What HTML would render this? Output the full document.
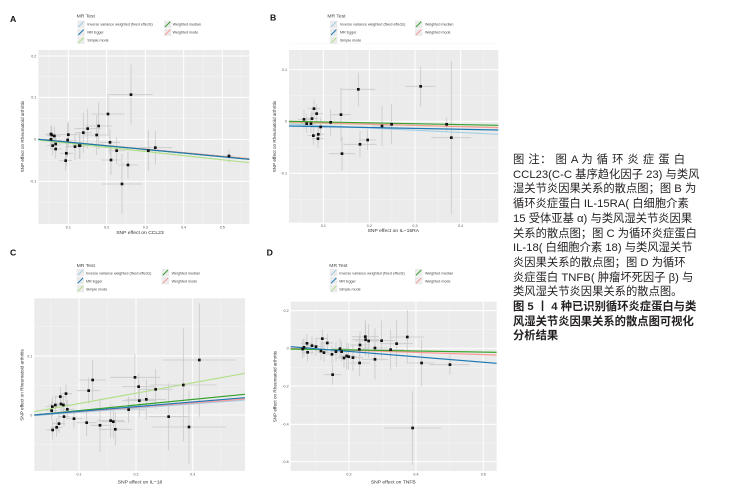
<!DOCTYPE html>
<html><head><meta charset="utf-8"><style>
body{margin:0;background:#fff;width:739px;height:492px;overflow:hidden;position:relative;font-family:"Liberation Sans","Noto Sans CJK SC",sans-serif}
svg{position:absolute;left:0;top:0}
.cap{position:absolute;left:513px;top:153px;width:172px;font-size:11.3px;line-height:14.7px;color:#231f20;font-family:"Liberation Sans","Noto Sans CJK SC",sans-serif}
.cap div{text-align:justify;text-align-last:justify;white-space:nowrap}
.cap div.l{text-align-last:left}
.cap b{font-weight:bold}
text{font-family:"Liberation Sans",sans-serif}
</style></head><body>
<svg width="739" height="492" viewBox="0 0 739 492">
<g id="A" transform="scale(0.3333)">
 <text x="30" y="66" font-size="26" font-weight="bold" fill="#111">A</text>
 <text x="230" y="52" font-size="15" fill="#444">MR Test</text>
 <text x="262" y="76" font-size="11" fill="#444">Inverse variance weighted (fixed effects)</text>
 <text x="262" y="100" font-size="11" fill="#444">MR Egger</text>
 <text x="262" y="124" font-size="11" fill="#444">Simple mode</text>
 <text x="518" y="76" font-size="11" fill="#444">Weighted median</text>
 <text x="518" y="100" font-size="11" fill="#444">Weighted mode</text>
 <text x="420" y="702" font-size="15" fill="#333" text-anchor="middle">SNP effect on CCL23</text>
 <text transform="translate(72,410) rotate(-90)" font-size="14" fill="#333" text-anchor="middle">SNP effect on Rheumatoid arthritis</text>
</g>
<g id="B" transform="translate(250,0) scale(0.3333)">
 <text x="60" y="62" font-size="26" font-weight="bold" fill="#111">B</text>
 <text x="232" y="52" font-size="15" fill="#444">MR Test</text>
 <text x="270" y="76" font-size="11" fill="#444">Inverse variance weighted (fixed effects)</text>
 <text x="270" y="100" font-size="11" fill="#444">MR Egger</text>
 <text x="270" y="124" font-size="11" fill="#444">Simple mode</text>
 <text x="525" y="76" font-size="11" fill="#444">Weighted median</text>
 <text x="525" y="100" font-size="11" fill="#444">Weighted mode</text>
 <text x="430" y="696" font-size="15" fill="#333" text-anchor="middle">SNP effect on IL−15RA</text>
 <text transform="translate(78,410) rotate(-90)" font-size="14" fill="#333" text-anchor="middle">SNP effect on Rheumatoid arthritis</text>
</g>
<g id="C" transform="translate(0,245) scale(0.3333)">
 <text x="30" y="32" font-size="26" font-weight="bold" fill="#111">C</text>
 <text x="230" y="66" font-size="15" fill="#444">MR Test</text>
 <text x="258" y="88" font-size="11" fill="#444">Inverse variance weighted (fixed effects)</text>
 <text x="258" y="112" font-size="11" fill="#444">MR Egger</text>
 <text x="258" y="136" font-size="11" fill="#444">Simple mode</text>
 <text x="515" y="88" font-size="11" fill="#444">Weighted median</text>
 <text x="515" y="112" font-size="11" fill="#444">Weighted mode</text>
 <text x="420" y="716" font-size="15" fill="#333" text-anchor="middle">SNP effect on IL−18</text>
 <text transform="translate(70,420) rotate(-90)" font-size="14" fill="#333" text-anchor="middle">SNP effect on Rheumatoid arthritis</text>
</g>
<g id="D" transform="translate(0,245) scale(0.3333)">
 <text x="800" y="32" font-size="26" font-weight="bold" fill="#111">D</text>
 <text x="988" y="66" font-size="15" fill="#444">MR Test</text>
 <text x="1018" y="88" font-size="11" fill="#444">Inverse variance weighted (fixed effects)</text>
 <text x="1018" y="112" font-size="11" fill="#444">MR Egger</text>
 <text x="1018" y="136" font-size="11" fill="#444">Simple mode</text>
 <text x="1275" y="88" font-size="11" fill="#444">Weighted median</text>
 <text x="1275" y="112" font-size="11" fill="#444">Weighted mode</text>
 <text x="1180" y="716" font-size="15" fill="#333" text-anchor="middle">SNP effect on TNFB</text>
 <text transform="translate(830,425) rotate(-90)" font-size="14" fill="#333" text-anchor="middle">SNP effect on Rheumatoid arthritis</text>
</g>
</svg>
<div class="cap">
<div>图 注： 图 A 为 循 环 炎 症 蛋 白</div>
<div>CCL23(C-C 基序趋化因子 23) 与类风</div>
<div>湿关节炎因果关系的散点图；图 B 为</div>
<div>循环炎症蛋白 IL-15RA( 白细胞介素</div>
<div>15 受体亚基 α) 与类风湿关节炎因果</div>
<div>关系的散点图；图 C 为循环炎症蛋白</div>
<div>IL-18( 白细胞介素 18) 与类风湿关节</div>
<div>炎因果关系的散点图；图 D 为循环</div>
<div>炎症蛋白 TNFB( 肿瘤坏死因子 β) 与</div>
<div class="l">类风湿关节炎因果关系的散点图。</div>
<div><b>图 5 丨 4 种已识别循环炎症蛋白与类</b></div>
<div><b>风湿关节炎因果关系的散点图可视化</b></div>
<div class="l"><b>分析结果</b></div>
</div>
<script>
var NS="http://www.w3.org/2000/svg";
function el(p,t,a,first){var e=document.createElementNS(NS,t);for(var k in a)e.setAttribute(k,a[k]);if(first)p.insertBefore(e,p.firstChild);else p.appendChild(e);return e;}
var C={ivw:"#a6cee3",eg:"#1f78b4",sm:"#b2df8a",wmed:"#33a02c",wmo:"#fb9a99"};
function panel(id,P){
 var g=document.getElementById(id);
 var b=el(g,"g",{},true);
 el(b,"rect",{x:P.x0,y:P.y0,width:P.x1-P.x0,height:P.y1-P.y0,fill:"#ebebeb"});
 P.ymin.forEach(function(y){el(b,"line",{x1:P.x0,x2:P.x1,y1:y,y2:y,stroke:"#f5f5f5","stroke-width":1.5});});
 P.xmin.forEach(function(x){el(b,"line",{x1:x,x2:x,y1:P.y0,y2:P.y1,stroke:"#f5f5f5","stroke-width":1.5});});
 P.yt.forEach(function(t){el(b,"line",{x1:P.x0,x2:P.x1,y1:t[0],y2:t[0],stroke:"#fff","stroke-width":3});var e=el(b,"text",{x:P.x0-6,y:t[0]+4,"font-size":11,fill:"#555","text-anchor":"end"});e.textContent=t[1];});
 P.xt.forEach(function(t){el(b,"line",{x1:t[0],x2:t[0],y1:P.y0,y2:P.y1,stroke:"#fff","stroke-width":3});var e=el(b,"text",{x:t[0],y:P.y1+13,"font-size":11,fill:"#555","text-anchor":"middle"});e.textContent=t[1];});
 P.keys.forEach(function(k){el(b,"rect",{x:k[0],y:k[1]-10,width:22,height:22,fill:"#ebebeb"});el(b,"line",{x1:k[0]+3,y1:k[1]+9,x2:k[0]+19,y2:k[1]-7,stroke:k[2],"stroke-width":3});});
 P.pts.forEach(function(p){var hx=p[2]||18,vy=p[3]||28;
  el(b,"line",{x1:p[0]-hx,x2:p[0]+hx,y1:p[1],y2:p[1],stroke:"#cacaca","stroke-width":2.5});
  el(b,"line",{x1:p[0],x2:p[0],y1:p[1]-vy,y2:p[1]+vy,stroke:"#cacaca","stroke-width":2.5});});
 P.lines.forEach(function(l){el(b,"line",{x1:P.x0,x2:P.x1,y1:l[0],y2:l[1],stroke:C[l[2]],"stroke-width":3.5});});
 P.pts.forEach(function(p){el(b,"rect",{x:p[0]-4,y:p[1]-4,width:8,height:8,fill:"#111"});});
}
function lk(x1,x2,y){return [[x1,y,C.ivw],[x1,y+24,C.eg],[x1,y+48,C.sm],[x2,y,C.wmed],[x2,y+24,C.wmo]];}
panel("A",{x0:115,x1:748,y0:150,y1:672,ymin:[230,355,481,607],xmin:[147,262,378,493,609,725],
 yt:[[168,"0.2"],[292,"0.1"],[418,"0"],[544,"-0.1"]],xt:[[205,"0.1"],[320,"0.2"],[436,"0.3"],[551,"0.4"],[667,"0.5"]],
 keys:lk(232,492,72),
 pts:[[153,402,15,25],[155,405],[158,437],[163,408],[167,432],[167,447],[153,418],[199,460,20,40],[197,482,20,30],[205,404,30,40],[203,420,30,50],[225,440,30,40],[238,437,20,40],[240,437,20,40],[250,398,25,60],[263,386,40,60],[290,405,40,60],[296,378,40,70],[324,342,50,60],[330,427,30,40],[333,480,30,45],[350,452,25,40],[366,552,60,90],[384,495,30,40],[393,284,65,90],[445,452,30,60],[466,443,50,50],[687,468,10,20]],
 lines:[[418,476,"ivw"],[418,476,"wmo"],[420,488,"sm"],[418,478,"wmed"],[418,478,"eg"]]});
panel("B",{x0:117,x1:745,y0:150,y1:668,ymin:[131,287,442,598],xmin:[151,289,426,564,701],
 yt:[[209,"0.1"],[364,"0"],[520,"-0.1"]],xt:[[220,"0.1"],[358,"0.2"],[495,"0.3"],[632,"0.4"]],
 keys:lk(240,495,72),
 pts:[[162,358],[170,371],[183,371],[186,356],[192,326],[200,341],[190,407],[205,403],[204,416],[212,381],[242,367,25,40],[273,344,30,80],[276,461,40,50],[325,268,50,50],[330,433,50,40],[353,420,25,30],[396,378,30,60],[425,373,30,60],[512,259,45,60],[590,373,15,20],[604,413,60,230]],
 lines:[[372,403,"ivw"],[378,390,"eg"],[368,382,"sm"],[366,383,"wmo"],[364,376,"wmed"]]});
panel("C",{x0:103,x1:735,y0:160,y1:678,ymin:[245,422,598],xmin:[152,322,492,662],
 yt:[[333,"0.1"],[510,"0"]],xt:[[237,"0.1"],[408,"0.2"],[578,"0.3"]],
 keys:lk(230,485,82),
 pts:[[155,497],[157,485],[158,555],[166,480],[170,547],[177,536],[181,455],[183,477],[190,480],[192,515],[198,446],[202,493],[222,521,25,30],[260,533,30,40],[266,437,35,40],[278,405,40,60],[300,541,30,80],[332,527,40,50],[340,530,35,50],[346,553,50,50],[386,494,50,40],[405,397,75,70],[416,425,50,40],[418,467,50,50],[439,463,60,60],[467,433,50,60],[506,515,60,100],[550,420,100,170],[567,546,110,110],[598,345,110,170]],
 lines:[[500,385,"sm"],[510,448,"wmed"],[512,465,"ivw"],[510,462,"wmo"],[510,458,"eg"]]});
panel("D",{x0:872,x1:1490,y0:170,y1:678,ymin:[254,367,481,594],xmin:[946,1148,1349],
 yt:[[197,"0.2"],[310,"0"],[423,"-0.2"],[538,"-0.4"],[650,"-0.6"]],xt:[[1047,"0.2"],[1248,"0.4"],[1450,"0.6"]],
 keys:lk(990,1245,82),
 pts:[[908,312],[912,307],[921,295],[923,322],[936,302],[948,305],[963,318],[967,281],[972,323],[982,294],[996,328],[998,389,25,30],[1008,320],[1020,311,25,30],[1025,320,25,30],[1032,339,25,30],[1040,333,25,40],[1046,335,25,40],[1059,338,30,40],[1078,313,30,40],[1080,300,30,40],[1079,354,30,40],[1096,275,40,50],[1097,284,40,50],[1106,288,40,50],[1125,309,40,60],[1125,343,40,60],[1145,287,40,60],[1172,314,40,60],[1190,296,50,70],[1222,276,50,80],[1238,549,85,110],[1265,354,40,70],[1350,359,60,30]],
 lines:[[312,322,"sm"],[310,330,"wmo"],[312,322,"wmed"],[305,355,"ivw"],[305,355,"eg"]]});
</script>
</body></html>
